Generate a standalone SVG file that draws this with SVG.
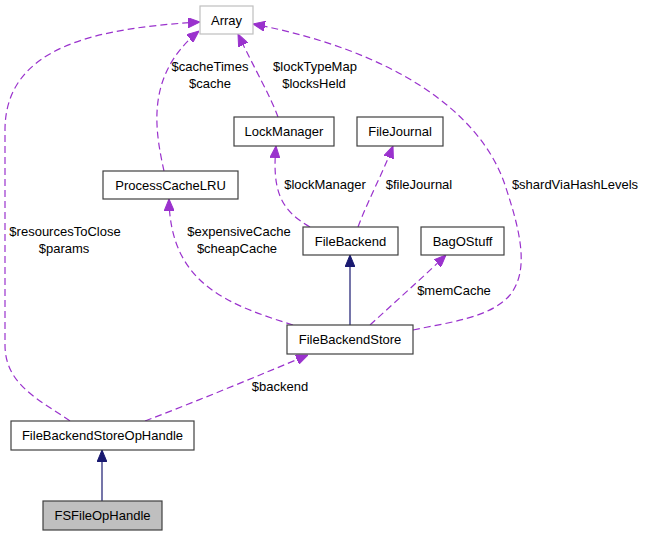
<svg xmlns="http://www.w3.org/2000/svg" width="645" height="536" viewBox="0 0 645 536">
<style>
.node rect{fill:#ffffff;stroke:#404040;stroke-width:1.2}
.node text,.lbl{font-family:"Liberation Sans",Arial,sans-serif;font-size:13px;fill:#000000;text-anchor:middle}
.dep{fill:none;stroke:#9a32cd;stroke-width:1.2;stroke-dasharray:7,4;marker-end:url(#ap)}
.inh{fill:none;stroke:#191970;stroke-width:1.2;marker-end:url(#an)}
</style>
<defs>
<marker id="ap" viewBox="0 0 12 10" refX="12" refY="5" markerWidth="12" markerHeight="10" markerUnits="userSpaceOnUse" orient="auto"><path d="M0,0 L12,5 L0,10 Z" fill="#9a32cd" stroke="#9a32cd"/></marker>
<marker id="an" viewBox="0 0 12 10" refX="12" refY="5" markerWidth="12" markerHeight="10" markerUnits="userSpaceOnUse" orient="auto"><path d="M0,0 L12,5 L0,10 Z" fill="#191970" stroke="#191970"/></marker>
</defs>
<rect width="645" height="536" fill="#ffffff"/>
<g id="edges">
<path class="inh" d="M102,501 L102,450"/>
<path class="inh" d="M350,325 L350,255"/>
<path class="dep" d="M70,421 C40,400 5,385 5,345 L5,130 C5,45 100,28 200,22"/>
<path class="dep" d="M145,421 C200,400 260,375 308,355"/>
<path class="dep" d="M293,325 C230,305 170,285 169,199"/>
<path class="dep" d="M164,171 C155,130 145,75 199,31"/>
<path class="dep" d="M278,117 C270,95 255,70 238,34"/>
<path class="dep" d="M310,227 C280,210 272,190 276,146"/>
<path class="dep" d="M358,227 C368,200 382,175 393,146"/>
<path class="dep" d="M370,325 C395,302 420,280 446,255"/>
<path class="dep" d="M413,330 C450,322 490,318 510,295 C530,270 520,230 505,185 C480,110 390,50 253,24"/>
<text class="lbl" x="210" y="71">$cacheTimes</text>
<text class="lbl" x="210" y="88">$cache</text>
<text class="lbl" x="315" y="71">$lockTypeMap</text>
<text class="lbl" x="314" y="88">$locksHeld</text>
<text class="lbl" x="325" y="189">$lockManager</text>
<text class="lbl" x="419" y="189">$fileJournal</text>
<text class="lbl" x="575" y="189">$shardViaHashLevels</text>
<text class="lbl" x="239" y="236">$expensiveCache</text>
<text class="lbl" x="237" y="253">$cheapCache</text>
<text class="lbl" x="65" y="236">$resourcesToClose</text>
<text class="lbl" x="64" y="253">$params</text>
<text class="lbl" x="454" y="295">$memCache</text>
<text class="lbl" x="280" y="391">$backend</text>
</g>
<g id="Array" class="node"><rect x="200" y="6" width="53" height="28" style="stroke:#bfbfbf"/><text x="226.5" y="25">Array</text></g>
<g id="LockManager" class="node"><rect x="234" y="117" width="100" height="29"/><text x="284" y="136">LockManager</text></g>
<g id="FileJournal" class="node"><rect x="357" y="117" width="86" height="29"/><text x="400" y="136">FileJournal</text></g>
<g id="ProcessCacheLRU" class="node"><rect x="103" y="171" width="135" height="28"/><text x="170.5" y="190">ProcessCacheLRU</text></g>
<g id="FileBackend" class="node"><rect x="303" y="227" width="95" height="28"/><text x="350.5" y="246">FileBackend</text></g>
<g id="BagOStuff" class="node"><rect x="421" y="227" width="83" height="28"/><text x="462.5" y="246">BagOStuff</text></g>
<g id="FileBackendStore" class="node"><rect x="287" y="325" width="126" height="29"/><text x="350" y="344">FileBackendStore</text></g>
<g id="FileBackendStoreOpHandle" class="node"><rect x="11" y="421" width="183" height="29"/><text x="102.5" y="440">FileBackendStoreOpHandle</text></g>
<g id="FSFileOpHandle" class="node"><rect x="43" y="501" width="119" height="29" style="fill:#bfbfbf"/><text x="102.5" y="520">FSFileOpHandle</text></g>
</svg>
